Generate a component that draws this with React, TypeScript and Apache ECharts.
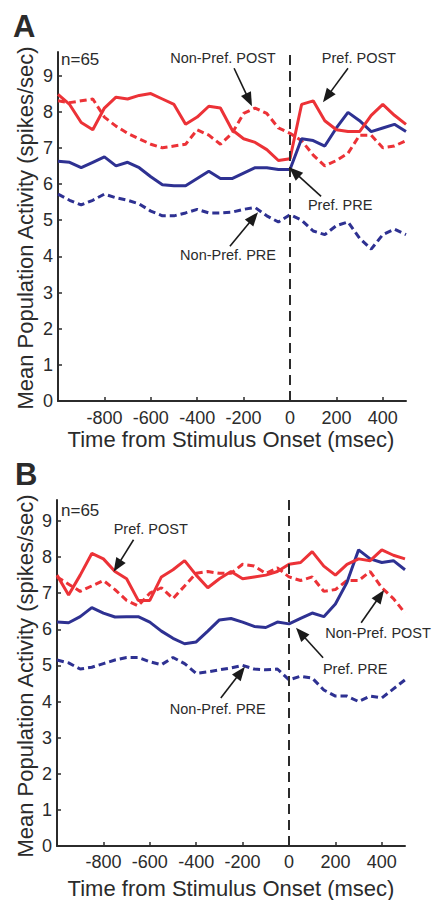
import React, { useEffect, useRef } from 'react';
import * as echarts from 'echarts';

// time grid (ms from stimulus onset)
const times = [-1000, -950, -900, -850, -800, -750, -700, -650, -600, -550, -500, -450, -400, -350, -300, -250, -200, -150, -100, -50, 0, 50, 100, 150, 200, 250, 300, 350, 400, 450, 500];

// Panel A
const aPrefPost = [8.48, 8.2, 7.7, 7.5, 8.1, 8.4, 8.35, 8.45, 8.5, 8.35, 8.2, 7.65, 7.85, 8.15, 8.1, 7.5, 7.25, 7.15, 6.95, 6.65, 6.7, 8.2, 8.3, 7.75, 7.5, 7.45, 7.45, 7.9, 8.2, 7.9, 7.65];
const aNonPrefPost = [8.3, 8.25, 8.3, 8.35, 7.85, 7.6, 7.4, 7.25, 7.1, 7.0, 7.05, 7.1, 7.5, 7.35, 7.1, 7.4, 7.95, 8.1, 7.95, 7.55, 7.4, 7.2, 6.8, 6.5, 6.65, 6.85, 7.35, 7.35, 7.0, 7.05, 7.2];
const aPrefPre = [6.63, 6.6, 6.45, 6.6, 6.75, 6.5, 6.6, 6.45, 6.2, 5.98, 5.95, 5.95, 6.15, 6.35, 6.15, 6.15, 6.3, 6.45, 6.45, 6.4, 6.4, 7.25, 7.2, 7.05, 7.55, 7.98, 7.75, 7.45, 7.55, 7.65, 7.45];
const aNonPrefPre = [5.72, 5.55, 5.42, 5.55, 5.72, 5.62, 5.55, 5.45, 5.25, 5.12, 5.12, 5.2, 5.3, 5.2, 5.2, 5.22, 5.3, 5.35, 5.12, 4.95, 5.15, 5.0, 4.7, 4.6, 4.85, 4.95, 4.5, 4.2, 4.6, 4.75, 4.6];

// Panel B
const bPrefPost = [7.5, 6.95, 7.5, 8.1, 7.95, 7.6, 7.4, 6.8, 6.8, 7.45, 7.65, 7.9, 7.5, 7.15, 7.4, 7.6, 7.4, 7.45, 7.5, 7.6, 7.8, 7.85, 8.15, 7.75, 7.5, 7.8, 7.95, 7.9, 8.2, 8.05, 7.95];
const bNonPrefPost = [7.45, 7.25, 7.05, 7.2, 7.35, 7.1, 6.8, 6.65, 7.0, 7.15, 6.85, 7.2, 7.55, 7.6, 7.55, 7.55, 7.8, 7.75, 7.55, 7.7, 7.45, 7.35, 7.45, 7.05, 7.1, 7.35, 7.35, 7.6, 7.15, 6.85, 6.45];
const bPrefPre = [6.2, 6.18, 6.35, 6.6, 6.45, 6.34, 6.35, 6.35, 6.2, 5.95, 5.75, 5.6, 5.65, 5.95, 6.26, 6.3, 6.2, 6.08, 6.05, 6.2, 6.15, 6.3, 6.45, 6.35, 6.7, 7.3, 8.2, 7.95, 7.85, 7.9, 7.65];
const bNonPrefPre = [5.15, 5.07, 4.9, 4.95, 5.05, 5.15, 5.22, 5.22, 5.1, 5.02, 5.22, 5.05, 4.78, 4.82, 4.88, 4.93, 5.0, 4.9, 4.88, 4.9, 4.6, 4.7, 4.65, 4.32, 4.15, 4.15, 4.0, 4.15, 4.1, 4.35, 4.6];

// tick labels
const xTicks = [-800, -600, -400, -200, 0, 200, 400];
const yTicks = [0, 1, 2, 3, 4, 5, 6, 7, 8, 9];

// annotations: [grid, label, textT, textV, fromT, fromV, tipT, tipV]
const annotations: [number, string, number, number, number, number, number, number][] = [
  [0, 'Non-Pref. POST', -289, 9.48, -241, 9.2, -164, 8.15],
  [0, 'Pref. POST', 297, 9.48, 250, 9.2, 142, 8.26],
  [0, 'Pref. PRE', 216, 5.41, 134, 5.66, -4, 6.46],
  [0, 'Non-Pref. PRE', -267, 4.03, -259, 4.28, -138, 5.22],
  [1, 'Pref. POST', -596, 8.78, -670, 8.48, -756, 7.59],
  [1, 'Pref. PRE', 285, 4.9, 147, 5.21, 30, 6.04],
  [1, 'Non-Pref. POST', 384, 5.9, 311, 6.18, 410, 7.09],
  [1, 'Non-Pref. PRE', -307, 3.8, -294, 4.1, -190, 4.96],
];

const RED = '#ec3237';
const BLUE = '#2e3192';
const INK = '#2b2b2b';
const FONT = '"Liberation Sans", Arial, sans-serif';

function pairs(arr: number[]) {
  return times.map((t, i) => [t, arr[i]]);
}

export default function App() {
  const ref = useRef<HTMLDivElement>(null);
  useEffect(() => {
    document.body.style.margin = '0';
    const chart = echarts.init(ref.current!, null, { renderer: 'svg' });
    const grids = [
      { left: 58, top: 52, width: 348, height: 349 },
      { left: 57, top: 500, width: 348, height: 346 },
    ];
    const yMax = [9.65, 9.58];
    const xAxes = grids.map((_, i) => ({
      type: 'value',
      gridIndex: i,
      min: -1000,
      max: 500,
      interval: 200,
      splitLine: { show: false },
      axisLine: { lineStyle: { color: INK, width: 2 } },
      axisTick: { inside: true, length: 4, lineStyle: { color: INK, width: 1.5 }, customValues: xTicks },
      axisLabel: { color: INK, fontSize: 18, fontFamily: FONT, margin: i === 0 ? 8 : 7, customValues: xTicks },
    }));
    const yAxes = grids.map((_, i) => ({
      type: 'value',
      gridIndex: i,
      min: 0,
      max: yMax[i],
      interval: 1,
      splitLine: { show: false },
      axisLine: { onZero: false, lineStyle: { color: INK, width: 2 } },
      axisTick: { inside: true, length: 4, lineStyle: { color: INK, width: 1.5 }, customValues: yTicks },
      axisLabel: {
        color: INK, fontSize: 18, fontFamily: FONT, margin: 5, customValues: yTicks,
        formatter: (v: number) => (Number.isInteger(v) ? String(v) : ''),
      },
    }));
    const mk = (i: number, data: number[], color: string, dashed: boolean, withZero: boolean) => ({
      type: 'line',
      xAxisIndex: i,
      yAxisIndex: i,
      data: pairs(data),
      showSymbol: false,
      symbol: 'none',
      z: dashed ? 2 : 3,
      lineStyle: { color, width: 3, type: dashed ? [7, 4] : 'solid' },
      markLine: withZero
        ? {
            silent: true,
            symbol: 'none',
            label: { show: false },
            lineStyle: { color: INK, width: 2, type: [10, 6] },
            data: [{ xAxis: 0 }],
          }
        : undefined,
    });
    const series = [
      mk(0, aNonPrefPre, BLUE, true, true),
      mk(0, aNonPrefPost, RED, true, false),
      mk(0, aPrefPre, BLUE, false, false),
      mk(0, aPrefPost, RED, false, false),
      mk(1, bNonPrefPre, BLUE, true, true),
      mk(1, bNonPrefPost, RED, true, false),
      mk(1, bPrefPre, BLUE, false, false),
      mk(1, bPrefPost, RED, false, false),
    ];
    chart.setOption({
      animation: false,
      backgroundColor: '#ffffff',
      grid: grids,
      xAxis: xAxes,
      yAxis: yAxes,
      series,
    });

    const g: any[] = [];
    const txt = (x: number, y: number, text: string, size: number, opts: any = {}) => ({
      type: 'text',
      x,
      y,
      rotation: opts.rotation || 0,
      silent: true,
      style: {
        text,
        fill: INK,
        fontSize: size,
        fontFamily: FONT,
        fontWeight: opts.bold ? 'bold' : 'normal',
        textAlign: opts.align || 'center',
        textVerticalAlign: 'middle',
      },
    });
    g.push(txt(13, 26, 'A', 31, { bold: true, align: 'left' }));
    g.push(txt(15, 474, 'B', 31, { bold: true, align: 'left' }));
    g.push(txt(61, 59, 'n=65', 17, { align: 'left' }));
    g.push(txt(61, 510, 'n=65', 17, { align: 'left' }));
    g.push(txt(231, 439, 'Time from Stimulus Onset (msec)', 22));
    g.push(txt(231, 888, 'Time from Stimulus Onset (msec)', 22));
    g.push(txt(25, 228, 'Mean Population Activity (spikes/sec)', 22, { rotation: Math.PI / 2 }));
    g.push(txt(25, 676, 'Mean Population Activity (spikes/sec)', 22, { rotation: Math.PI / 2 }));

    for (const [gi, label, tt, tv, ft, fv, pt, pv] of annotations) {
      const T = chart.convertToPixel({ gridIndex: gi }, [tt, tv]) as number[];
      const S = chart.convertToPixel({ gridIndex: gi }, [ft, fv]) as number[];
      const P = chart.convertToPixel({ gridIndex: gi }, [pt, pv]) as number[];
      g.push(txt(T[0], T[1], label, 14.5));
      const dx = P[0] - S[0];
      const dy = P[1] - S[1];
      const len = Math.sqrt(dx * dx + dy * dy);
      const ux = dx / len;
      const uy = dy / len;
      const L = 14;
      const W = 5.5;
      const bx = P[0] - ux * L;
      const by = P[1] - uy * L;
      g.push({
        type: 'line',
        silent: true,
        shape: { x1: S[0], y1: S[1], x2: bx + ux * 2, y2: by + uy * 2 },
        style: { stroke: '#1a1a1a', lineWidth: 1.6 },
        z: 100,
      });
      g.push({
        type: 'polygon',
        silent: true,
        shape: {
          points: [
            [P[0], P[1]],
            [bx - uy * W, by + ux * W],
            [bx + uy * W, by - ux * W],
          ],
        },
        style: { fill: '#1a1a1a' },
        z: 100,
      });
    }
    chart.setOption({ graphic: g });

    return () => chart.dispose();
  }, []);
  return <div ref={ref} style={{ position: 'absolute', left: 0, top: 0, width: 432, height: 900 }} />;
}
